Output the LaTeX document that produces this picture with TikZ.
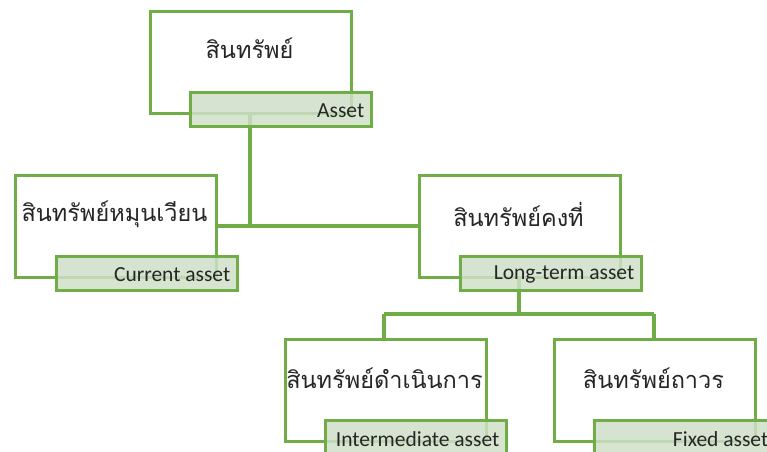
\documentclass[tikz,border=0pt]{standalone}
\usepackage{fontspec}
\setmainfont{Carlito}
\newfontfamily\thaifont[Script=Thai]{Loma}
\definecolor{gline}{HTML}{70AD47}
\definecolor{gfill}{HTML}{CFDFC8}
\tikzset{
  mainbox/.style={draw=gline, line width=2.8pt, fill=white, minimum width=201pt, minimum height=102pt, inner sep=0pt, anchor=north west},
  labbox/.style={draw=gline, line width=2.8pt, fill=gfill, fill opacity=0.85, text opacity=1, minimum width=181pt, minimum height=34pt, inner sep=0pt, anchor=north west},
  thaitext/.style={font=\thaifont\fontsize{23.5}{28}\selectfont, text=black!85},
  labtext/.style={font=\fontsize{21.5}{24}\selectfont, text=black!85, anchor=east},
  conn/.style={draw=gline, line width=3.2pt}
}
\begin{document}
\begin{tikzpicture}[x=1pt,y=-1pt]
\useasboundingbox (0,0) rectangle (767,451);
% main boxes
\node[mainbox] (top) at (149,10) {};
\node[mainbox] (cur) at (14,174) {};
\node[mainbox] (lt) at (418,174) {};
\node[mainbox] (im) at (284,338) {};
\node[mainbox] (fx) at (553,338) {};
% connector points
\coordinate (j1) at (250,226);
\coordinate (j2) at (519,314);
\coordinate (j3) at (384,314);
\coordinate (j4) at (654,314);
\draw[conn] (top.south -| j1) -- (j1);
\draw[conn] (cur.east |- j1) -- (lt.west |- j1);
\draw[conn] (lt.south -| j2) -- (j2);
\draw[conn] (j3) -- (j4);
\draw[conn] (j3) -- (im.north -| j3);
\draw[conn] (j4) -- (fx.north -| j4);
% Thai texts
\node[thaitext] (ttop) at (249.5,48) {สินทรัพย์};
\node[thaitext] (tcur) at (114.5,214) {สินทรัพย์หมุนเวียน};
\node[thaitext] (tlt) at (518.5,214) {สินทรัพย์คงที่};
\node[thaitext] (tim) at (384.5,378) {สินทรัพย์ดำเนินการ};
\node[thaitext] (tfx) at (653.5,378) {สินทรัพย์ถาวร};
% labels
\node[labbox] (ltop) at (189,91) {};
\node[labbox] (lcur) at (55,255) {};
\node[labbox] (llt) at (459,255) {};
\node[labbox] (lim) at (324,419) {};
\node[labbox] (lfx) at (593,419) {};
\node[labtext] at ([xshift=-5pt,yshift=-1pt]ltop.east) {Asset};
\node[labtext] at ([xshift=-5pt,yshift=-1pt]lcur.east) {Current asset};
\node[labtext] at ([xshift=-5pt,yshift=-1pt]llt.east) {Long-term asset};
\node[labtext] at ([xshift=-5pt,yshift=-2pt]lim.east) {Intermediate asset};
\node[labtext] at ([xshift=-5pt,yshift=-2pt]lfx.east) {Fixed asset};
\end{tikzpicture}
\end{document}
